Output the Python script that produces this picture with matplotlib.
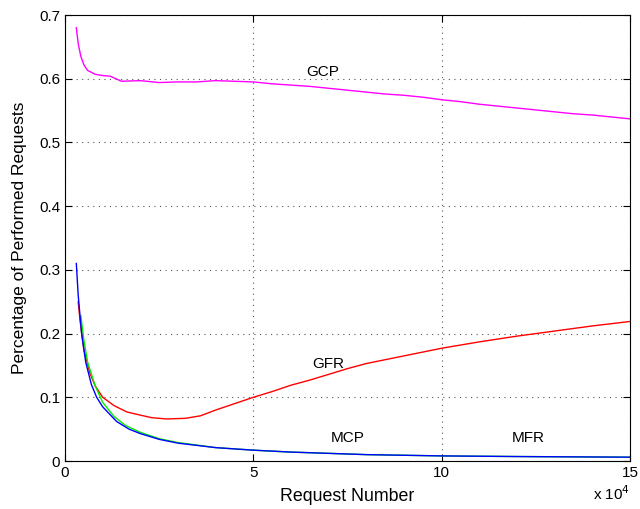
import matplotlib.pyplot as plt

plt.rcParams['font.family'] = ['Liberation Sans', 'DejaVu Sans']

# x values in units of 10^4 requests
gcp_x = [0.3, 0.35, 0.42, 0.5, 0.6, 0.8, 1.0, 1.2, 1.5, 2.0, 2.5, 3.0, 3.5, 4.0, 4.5, 5.0, 5.5, 6.0, 6.5, 7.0, 7.5, 8.0, 8.5, 9.0, 9.5, 10.0, 10.5, 11.0, 11.5, 12.0, 12.5, 13.0, 13.5, 14.0, 14.5, 15.0]
gcp_y = [0.68, 0.655, 0.635, 0.622, 0.613, 0.607, 0.605, 0.604, 0.596, 0.597, 0.594, 0.595, 0.595, 0.597, 0.596, 0.595, 0.592, 0.590, 0.588, 0.585, 0.582, 0.579, 0.576, 0.574, 0.571, 0.567, 0.564, 0.560, 0.557, 0.554, 0.551, 0.548, 0.545, 0.543, 0.540, 0.537]

gfr_x = [0.35, 0.4, 0.5, 0.66, 0.8, 1.0, 1.3, 1.64, 2.0, 2.3, 2.7, 3.2, 3.6, 4.0, 4.5, 5.0, 5.5, 6.0, 6.5, 7.0, 7.5, 8.0, 8.5, 9.0, 10.0, 11.0, 12.0, 13.0, 14.0, 15.0]
gfr_y = [0.25, 0.22, 0.175, 0.138, 0.118, 0.1, 0.087, 0.077, 0.072, 0.068, 0.066, 0.067, 0.071, 0.08, 0.09, 0.1, 0.109, 0.119, 0.127, 0.136, 0.145, 0.153, 0.159, 0.165, 0.177, 0.187, 0.196, 0.204, 0.212, 0.219]

mfr_x = [0.42, 0.5, 0.6, 0.8, 1.0, 1.3, 1.6, 2.0, 2.5, 3.0, 4.0, 5.0, 6.0, 7.0, 8.0, 10.0, 12.0, 15.0]
mfr_y = [0.228, 0.19, 0.155, 0.118, 0.092, 0.07, 0.056, 0.045, 0.035, 0.029, 0.021, 0.017, 0.014, 0.012, 0.010, 0.008, 0.007, 0.006]

mcp_x = [0.3, 0.35, 0.44, 0.55, 0.7, 0.84, 1.0, 1.37, 1.7, 2.0, 2.5, 3.0, 4.0, 5.0, 6.0, 7.0, 8.0, 10.0, 12.0, 15.0]
mcp_y = [0.31, 0.26, 0.2, 0.155, 0.12, 0.1, 0.085, 0.062, 0.05, 0.043, 0.034, 0.028, 0.021, 0.017, 0.014, 0.012, 0.010, 0.008, 0.007, 0.006]

fig = plt.figure(figsize=(6.4, 5.09), dpi=100)
ax = fig.add_axes([0.1016, 0.0943, 0.8828, 0.8762])

ax.plot(gcp_x, gcp_y, color='#ff00ff', lw=1)
ax.plot(gfr_x, gfr_y, color='#ff0000', lw=1)
ax.plot(mfr_x, mfr_y, color='#00ee00', lw=1)
ax.plot(mcp_x, mcp_y, color='#0000ff', lw=1)

ax.text(6.85, 0.61, 'GCP', fontsize=11, ha='center', va='center')
ax.text(7.0, 0.152, 'GFR', fontsize=11, ha='center', va='center')
ax.text(7.5, 0.036, 'MCP', fontsize=11, ha='center', va='center')
ax.text(12.3, 0.036, 'MFR', fontsize=11, ha='center', va='center')

ax.set_xlim(0, 15)
ax.set_ylim(0, 0.7)
ax.set_xticks([0, 5, 10, 15])
ax.set_yticks([0, 0.1, 0.2, 0.3, 0.4, 0.5, 0.6, 0.7])
ax.set_yticklabels(['0', '0.1', '0.2', '0.3', '0.4', '0.5', '0.6', '0.7'])
ax.tick_params(direction='in', top=True, right=True, labelsize=11, length=5)
ax.grid(True, linestyle=(0, (1, 4)), color='#555555', lw=0.8)

ax.set_xlabel('Request Number', fontsize=12.8, labelpad=6)
ax.set_ylabel('Percentage of Performed Requests', fontsize=12.5, labelpad=9)
fig.text(0.985, 0.012, r'x 10$^{4}$', ha='right', va='bottom', fontsize=11)

fig.savefig('out.png', dpi=100)
